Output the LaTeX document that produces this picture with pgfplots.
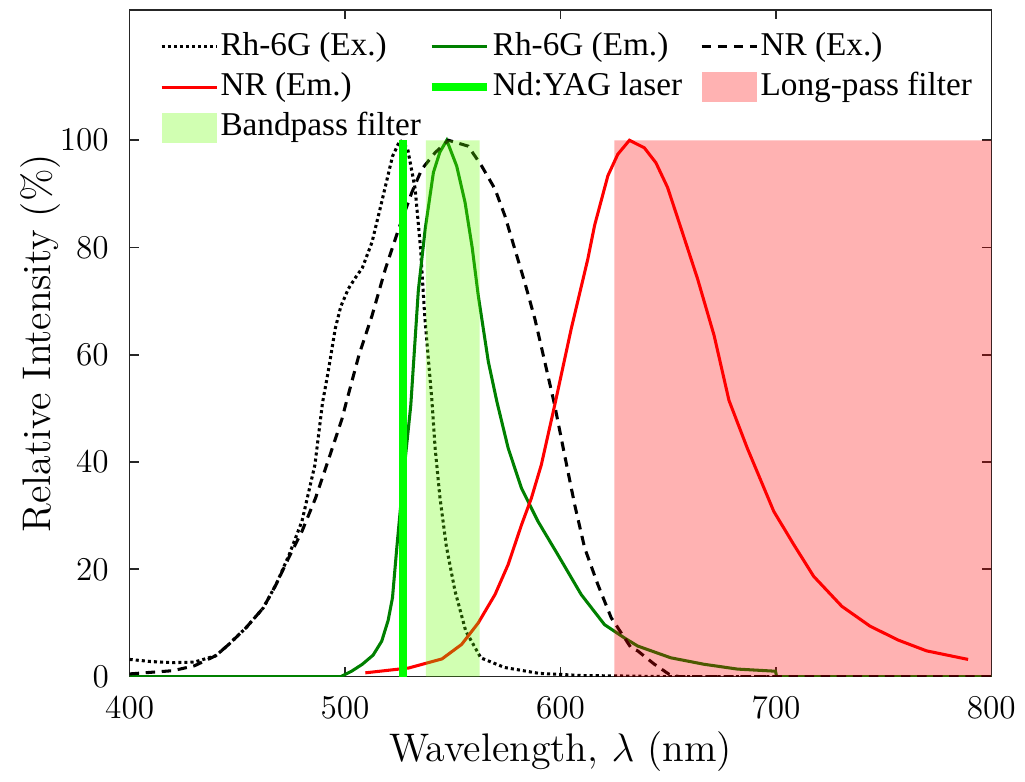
\documentclass[border=0pt]{standalone}
\usepackage{pgfplots}
\pgfplotsset{compat=1.18}
\usepackage{fontspec}
\newfontfamily\timesf{Liberation Serif}
\definecolor{emgreen}{rgb}{0,0.5,0}
\definecolor{lasergreen}{rgb}{0,1,0}
\definecolor{bpgreen}{rgb}{0.4,1,0}
\definecolor{axgray}{rgb}{0.15,0.15,0.15}

\begin{document}
\begin{tikzpicture}
\begin{axis}[
  scale only axis, width=311pt, height=240.6pt,
  xmin=400, xmax=800, ymin=0, ymax=124.3,
  xtick={400,500,600,700,800}, ytick={0,20,40,60,80,100},
  tick align=inside, major tick length=3.3pt,
  axis line style={axgray, line width=0.6pt},
  every tick/.style={axgray, line width=0.6pt},
  tick label style={font=\fontsize{13}{15}\selectfont},
  yticklabel style={xshift=-4pt},
  xticklabel style={yshift=-4pt},
  label style={font=\fontsize{14.4}{17}\selectfont},
  xlabel={Wavelength, $\lambda$ (nm)},
  ylabel={Relative Intensity (\%)},
  xlabel style={at={(axis description cs:0.5,-0.113)}, anchor=center},
  ylabel style={at={(axis description cs:-0.104,0.5)}, anchor=center},
  legend columns=3,
  legend cell align=left,
  legend style={draw=none, fill=none, at={(rel axis cs:0.025,0.983)}, anchor=north west,
    font=\timesf\fontsize{12}{14}\selectfont, column sep=0pt, row sep=0.6pt,
    nodes={inner sep=0.8pt, text height=9.2pt, text depth=3.2pt}},
  legend image code/.code={\draw[#1] (0cm,0cm) -- (0.7cm,0cm);},
]
% Rh-6G excitation
\addplot[black, line width=1.1pt, dash pattern=on 1.1pt off 1.1pt] coordinates {
(400,3.2)(410,2.8)(420,2.6)(430,2.7)(440,3.9)(446,6.0)(454,9.1)(462,12.8)(468,17.2)
(474,22.7)(480,29.0)(486,39.5)(489.5,51)(492,56.5)(495.5,65)(498,69)(501.5,72.3)
(505,74.5)(508,76.2)(512.5,81)(517,88.5)(522,97)(525.5,100)(529,98.5)(532.5,91)
(535,80)(537,67)(540.3,51.5)(541.8,42.6)(544,33.5)(547,24.3)(551,16)(556,8.5)
(563,3.5)(574,1.7)(590,0.6)(610,0.2)(650,0)(800,0)};
\addlegendentry{\makebox[74pt][l]{Rh-6G (Ex.)}}
% Rh-6G emission
\addplot[emgreen, line width=1.1pt] coordinates {
(400,0)(498,0)(503,1)(508,2.3)(513,4)(517,6.6)(520,10.5)(522,14.7)(524,24)(527,37)
(530.5,50.6)(534,72)(537.2,83.5)(541,94)(544,97.8)(547.2,100)(551.8,95.2)(555.7,88.4)
(559,80)(561.8,71.1)(566.5,58.7)(570.5,51.2)(575.7,42.6)(581.9,35.1)(589.6,28.9)
(598.8,22.7)(609.6,15.3)(620.4,9.7)(629.7,7.2)(635.8,5.7)(651.2,3.5)(666.6,2.3)
(682.1,1.4)(699.8,1.0)(700.3,0)(800,0)};
\addlegendentry{\makebox[74pt][l]{Rh-6G (Em.)}}
% NR excitation
\addplot[black, line width=1.1pt, dash pattern=on 3.4pt off 2.4pt] coordinates {
(400,0.5)(410,0.8)(420,1.1)(430,2.0)(440,3.9)(446,6.0)(454,9.1)(462,12.8)(468,17.2)
(474,22.3)(480,27.1)(486.3,33.3)(492.5,40.7)(498.6,48.1)(500.2,50.6)(506.4,59.9)
(512.5,67.3)(518.7,76.0)(524.9,83.5)(531,90.3)(535.6,94.6)(541.8,97.7)(548,100)
(557.2,98.9)(563.4,95.2)(569.6,90.9)(574.2,85.9)(578.8,79.7)(583.4,73.5)(588.1,66.7)
(592.7,58.7)(597.3,50.6)(601.9,41.3)(606.6,32.0)(611.2,24.0)(617.3,17.2)(623.5,11.0)
(632.7,5.4)(635.8,4.8)(643.6,2.3)(650.5,0.4)(655,0)(800,0)};
\addlegendentry{NR (Ex.)}
% NR emission
\addplot[red, line width=1.1pt] coordinates {
(509.4,0.7)(529.5,1.6)(545,3.3)(554.1,6.0)(561.8,10.0)(569.6,15.3)(575.7,20.9)
(581.9,28.3)(586.5,33.3)(591.1,39.5)(597.3,50.6)(605,64.9)(612.7,77.9)(615.8,84.1)
(622,93.4)(626.6,97.4)(632,100)(638.9,98.6)(644.3,95.8)(649.7,91.2)(654.3,85.6)
(663.6,74.2)(671.3,63.6)(678.2,51.5)(686.7,42.6)(699,30.8)(708.3,24.6)(717.5,18.7)
(730.6,13.1)(743.7,9.4)(756.8,6.8)(769.9,4.8)(789.2,3.2)};
\addlegendentry{\makebox[74pt][l]{NR (Em.)}}
% Nd:YAG laser line
\addplot[lasergreen, line width=2.8pt] coordinates {(526.8,0)(526.8,100)};
\addlegendentry{\makebox[74pt][l]{Nd:YAG laser}}
% long-pass filter
\addplot[draw=none, fill=red, fill opacity=0.3,
  legend image code/.code={\fill[red, fill opacity=0.3] (0cm,-5.4pt) rectangle (0.7cm,5.4pt);}]
  coordinates {(625,0)(625,100)(800,100)(800,0)} \closedcycle;
\addlegendentry{Long-pass filter}
% bandpass filter
\addplot[draw=none, fill=bpgreen, fill opacity=0.3,
  legend image code/.code={\fill[bpgreen, fill opacity=0.3] (0cm,-5.4pt) rectangle (0.7cm,5.4pt);}]
  coordinates {(537.5,0)(537.5,100)(562.5,100)(562.5,0)} \closedcycle;
\addlegendentry{Bandpass filter}
\end{axis}
\path (current axis.north west) ++(-46.8pt,3.6pt);
\path (current axis.south east) ++(10.8pt,0pt);
\end{tikzpicture}
\end{document}
